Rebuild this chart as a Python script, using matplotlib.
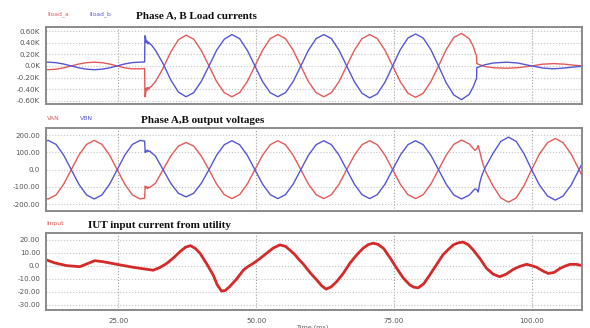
import numpy as np
import matplotlib.pyplot as plt

# ---------------- data ----------------
# Phase A, B load currents (kA), sample times in ms
t_i = [11.9, 12.27, 13.66, 15.04, 16.43, 17.82, 19.21, 20.60, 21.99, 23.38,
       24.77, 26.16, 27.54, 28.93, 29.75, 29.8, 29.9, 30.05, 30.2, 30.35,
       30.5, 30.7, 31.0, 31.71, 33.10, 34.49, 35.88, 37.27, 38.66, 40.04,
       41.43, 42.82, 44.21, 45.60, 46.99, 48.38, 49.77, 51.16, 52.55, 53.93,
       55.32, 56.71, 58.10, 59.49, 60.88, 62.27, 63.66, 65.04, 66.43, 67.82,
       69.21, 70.60, 71.99, 73.38, 74.77, 76.16, 77.54, 78.93, 80.32, 81.71,
       83.10, 84.49, 85.88, 87.27, 88.66, 89.4, 89.8, 90.0, 90.05, 90.6,
       91.5, 93.0, 95.5, 97.5, 100.0, 102.0, 104.0, 106.0, 108.0, 109.2]
iload_a = [-0.064, -0.065, -0.056, -0.033, 0.0, 0.033, 0.056, 0.065, 0.056, 0.033,
           0.0, -0.033, -0.05, -0.05, -0.045, -0.53, -0.50, -0.38, -0.42, -0.37,
           -0.40, -0.37, -0.35, -0.27, -0.04, 0.24, 0.45, 0.53, 0.46, 0.265,
           0.0, -0.27, -0.46, -0.53, -0.46, -0.27, 0.0, 0.27, 0.47, 0.54,
           0.47, 0.27, 0.0, -0.27, -0.46, -0.53, -0.46, -0.27, 0.0, 0.27,
           0.47, 0.54, 0.47, 0.27, 0.0, -0.27, -0.47, -0.54, -0.47, -0.27,
           0.0, 0.28, 0.49, 0.56, 0.47, 0.34, 0.22, 0.18, 0.04, 0.02,
           -0.01, -0.03, -0.04, -0.03, 0.0, 0.03, 0.04, 0.03, 0.01, 0.0]
iload_b = [0.064, 0.065, 0.056, 0.033, 0.0, -0.033, -0.056, -0.065, -0.056, -0.033,
           0.0, 0.035, 0.058, 0.065, 0.068, 0.52, 0.50, 0.40, 0.43, 0.38,
           0.41, 0.38, 0.36, 0.27, 0.04, -0.24, -0.45, -0.53, -0.46, -0.265,
           0.0, 0.27, 0.46, 0.54, 0.47, 0.27, 0.0, -0.27, -0.46, -0.53,
           -0.46, -0.27, 0.0, 0.27, 0.47, 0.54, 0.47, 0.27, 0.0, -0.27,
           -0.47, -0.55, -0.48, -0.28, 0.0, 0.28, 0.48, 0.55, 0.48, 0.28,
           0.0, -0.29, -0.50, -0.58, -0.49, -0.36, -0.26, -0.22, -0.03, -0.01,
           0.02, 0.05, 0.065, 0.05, 0.0, -0.035, -0.05, -0.035, -0.015, -0.005]

# Phase A, B output voltages (V)
t_v = [11.9, 12.27, 13.66, 15.04, 16.43, 17.82, 19.21, 20.60, 21.99, 23.38,
       24.77, 26.16, 27.54, 28.93, 29.75, 29.85, 30.0, 30.15, 30.32, 30.5,
       30.7, 31.0, 31.71, 33.10, 34.49, 35.88, 37.27, 38.66, 40.04, 41.43,
       42.82, 44.21, 45.60, 46.99, 48.38, 49.77, 51.16, 52.55, 53.93, 55.32,
       56.71, 58.10, 59.49, 60.88, 62.27, 63.66, 65.04, 66.43, 67.82, 69.21,
       70.60, 71.99, 73.38, 74.77, 76.16, 77.54, 78.93, 80.32, 81.71, 83.10,
       84.49, 85.88, 87.27, 88.66, 89.7, 90.0, 90.3, 90.6, 90.9, 91.2,
       91.6, 93.0, 94.4, 95.8, 97.2, 98.6, 100.0, 101.4, 102.9, 104.3,
       105.7, 107.2, 108.6, 109.2]
van = [-168, -170, -147, -85, 0, 85, 147, 170, 147, 85,
       0, -85, -147, -170, -165, -95, -108, -98, -110, -101,
       -104, -96, -79, 0, 79, 137, 158, 137, 79, 0,
       -84, -145, -168, -145, -84, 0, 84, 145, 168, 145,
       84, 0, -84, -145, -168, -145, -84, 0, 84, 145,
       168, 145, 84, 0, -84, -145, -168, -145, -84, 0,
       84, 147, 172, 150, 112, 118, 140, 105, 63, 30,
       -8, -95, -164, -189, -164, -94, 0, 90, 157, 181,
       157, 90, 0, -38]
vbn = [168, 170, 147, 85, 0, -85, -147, -170, -147, -85,
       0, 85, 147, 170, 166, 100, 112, 104, 114, 106,
       108, 98, 79, 0, -79, -137, -158, -137, -79, 0,
       84, 145, 168, 145, 84, 0, -84, -145, -168, -145,
       -84, 0, 84, 145, 168, 145, 84, 0, -84, -145,
       -168, -145, -84, 0, 84, 145, 168, 145, 84, 0,
       -84, -147, -170, -148, -112, -115, -130, -75, -40, -15,
       14, 95, 164, 189, 164, 94, 0, -88, -153, -177,
       -153, -88, 0, 38]

# IUT input current from utility (A)
t_in = [11.9, 13.5, 15.6, 18.0, 20.7, 22.2, 24.7, 27.7, 30.1, 31.3,
        32.5, 33.8, 35.0, 36.2, 37.2, 38.1, 39.0, 39.8, 41.0, 42.2,
        42.9, 43.7, 44.4, 45.2, 46.4, 47.7, 48.6, 49.5, 50.7, 51.9,
        53.1, 54.3, 55.3, 56.1, 57.0, 57.9, 58.5, 59.8, 61.0, 61.9,
        62.7, 63.6, 64.6, 65.8, 67.0, 68.2, 69.4, 70.3, 71.2, 72.1,
        73.1, 74.3, 75.5, 76.7, 77.9, 78.6, 79.4, 80.4, 81.5, 82.7,
        83.9, 84.9, 85.8, 86.7, 87.6, 88.5, 89.4, 90.6, 91.8, 93.0,
        94.2, 95.4, 96.7, 97.9, 99.1, 100.0, 100.9, 102.0, 103.0, 104.1,
        105.2, 106.1, 107.0, 108.1, 109.2]
i_in = [4.4, 2.0, 0.0, -0.8, 3.8, 3.0, 1.0, -1.3, -2.8, -3.5,
        -1.5, 1.8, 6.0, 10.8, 14.2, 15.3, 13.0, 9.5, 1.5, -7.2,
        -14.5, -19.5, -19.0, -16.0, -10.5, -3.3, -0.5, 1.8, 5.5, 9.5,
        13.5, 15.9, 14.8, 12.0, 8.5, 4.0, 1.5, -5.5, -11.0, -15.5,
        -18.0, -16.3, -12.3, -6.0, 1.8, 8.0, 13.3, 16.0, 17.2, 16.3,
        13.3, 6.0, -2.0, -9.5, -14.8, -16.5, -17.0, -14.0, -7.2, 0.5,
        8.2, 12.5, 15.9, 17.5, 18.0, 16.0, 12.0, 5.5, -2.0, -6.5,
        -8.5, -6.5, -2.8, -0.5, 1.0, 0.0, -1.3, -4.0, -6.0, -5.2,
        -2.0, -0.3, 1.0, 1.0, 0.0]

ticks_i = [0.6, 0.4, 0.2, 0.0, -0.2, -0.4, -0.6]
labels_i = ['0.60K', '0.40K', '0.20K', '0.0K', '-0.20K', '-0.40K', '-0.60K']
ticks_v = [200, 100, 0, -100, -200]
labels_v = ['200.00', '100.00', '0.0', '-100.00', '-200.00']
ticks_in = [20, 10, 0, -10, -20, -30]
labels_in = ['20.00', '10.00', '0.0', '-10.00', '-20.00', '-30.00']
ticks_t = [25, 50, 75, 100]
labels_t = ['25.00', '50.00', '75.00', '100.00']

# ---------------- figure ----------------
W, H = 590, 328
RED = '#e45a5a'
BLUE = '#5656d6'
fig = plt.figure(figsize=(W / 100, H / 100), dpi=100)


def frac(x, y):
    return x / W, 1 - y / H


def panel(top, bottom):
    l, b = frac(46.3, bottom)
    ax = fig.add_axes([l, b, (582.3 - 46.3) / W, (bottom - top) / H])
    ax.set_xlim(11.9, 109.2)
    for s in ax.spines.values():
        s.set_color('#8a8a8a')
        s.set_linewidth(1.4)
    ax.tick_params(length=0, labelsize=5.1, labelcolor='#555555', pad=4.5)
    ax.set_xticks(ticks_t)
    ax.grid(axis='x', color='#a0a0a0', linestyle=':', linewidth=0.8)
    ax.grid(axis='y', color='#c4c4c4', linestyle=':', linewidth=0.8)
    return ax


ax1 = panel(27, 104)
ax1.set_ylim(-0.655, 0.67)
ax1.set_yticks(ticks_i, labels_i)
ax1.set_xticklabels([])
ax1.plot(t_i, iload_a, color=RED, lw=1.0)
ax1.plot(t_i, iload_b, color=BLUE, lw=1.0)

ax2 = panel(128, 211)
ax2.set_ylim(-240, 242)
ax2.set_yticks(ticks_v, labels_v)
ax2.set_xticklabels([])
ax2.plot(t_v, van, color=RED, lw=1.0)
ax2.plot(t_v, vbn, color=BLUE, lw=1.0)

ax3 = panel(233, 310)
ax3.set_ylim(-34, 25)
ax3.set_yticks(ticks_in, labels_in)
ax3.set_xticks(ticks_t, labels_t)
ax3.tick_params(axis='x', pad=5.5)
ax3.plot(t_in, i_in, color='#d42a2a', lw=2.0)

# titles and signal names
title_font = dict(family='Liberation Serif', fontweight='bold', fontsize=8.0,
                  ha='center', va='center', color='#111111')
fig.text(*frac(196, 16), 'Phase A, B Load currents', **title_font)
fig.text(*frac(203, 120.5), 'Phase A,B output voltages', **title_font)
fig.text(*frac(160, 225), 'IUT input current from utility', **title_font)

name_font = dict(fontsize=4.4, ha='left', va='center')
fig.text(*frac(47, 14), 'Iload_a', color=RED, **name_font)
fig.text(*frac(89, 14), 'Iload_b', color=BLUE, **name_font)
fig.text(*frac(47, 119), 'VAN', color=RED, **name_font)
fig.text(*frac(80, 119), 'VBN', color=BLUE, **name_font)
fig.text(*frac(46, 224), 'Iinput', color=RED, **name_font)
fig.text(*frac(312, 327), 'Time (ms)', fontsize=4.6, color='#555555',
         ha='center', va='center')

fig.savefig('out.png', dpi=100)
